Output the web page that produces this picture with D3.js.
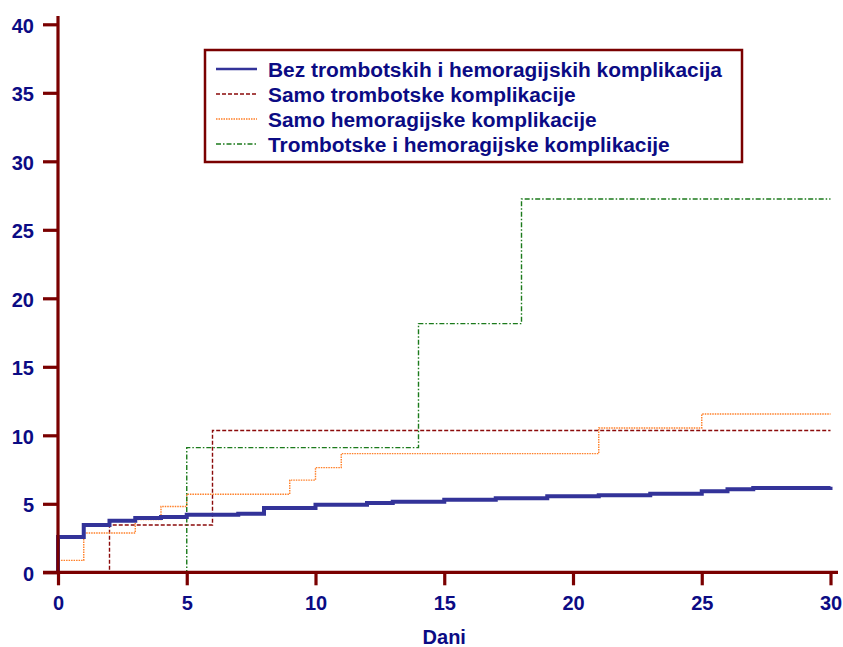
<!DOCTYPE html>
<html>
<head>
<meta charset="utf-8">
<script src="https://cdn.jsdelivr.net/npm/d3@7"></script>
<style>
  html, body { margin: 0; padding: 0; background: #fff; }
  svg { display: block; }
  text { font-family: "Liberation Sans", Arial, sans-serif; font-weight: bold; fill: #0b0b84; }
</style>
</head>
<body>
<svg id="chart" width="843" height="647"></svg>
<script>
// ---- Data ----
const xTicks = [0, 5, 10, 15, 20, 25, 30];
const yTicks = [0, 5, 10, 15, 20, 25, 30, 35, 40];
const xLabel = "Dani";

const seriesNames = [
  "Bez trombotskih i hemoragijskih komplikacija",
  "Samo trombotske komplikacije",
  "Samo hemoragijske komplikacije",
  "Trombotske i hemoragijske komplikacije"
];

// step curves: day of event, cumulative % after the event
const blueDays = [0, 1, 2, 3, 4, 5, 7, 8, 10, 12, 13, 15, 17, 19, 21, 23, 25, 26, 27, 30];
const blueVals = [2.58, 3.45, 3.77, 3.96, 4.04, 4.2, 4.27, 4.7, 4.93, 5.05, 5.15, 5.3, 5.4, 5.56, 5.63, 5.73, 5.91, 6.07, 6.15, 6.25];

const redDays = [0, 2, 6, 30];
const redVals = [0, 3.45, 10.35, 10.35];

const orangeDays = [0, 1, 3, 4, 5, 9, 10, 11, 21, 25, 30];
const orangeVals = [0.87, 2.87, 3.85, 4.8, 5.7, 6.73, 7.64, 8.66, 10.53, 11.55, 11.55];

const greenDays = [0, 5, 14, 18, 30];
const greenVals = [0, 9.1, 18.15, 27.25, 27.25];

// ---- Layout ----
const svg = d3.select("#chart");
const x = d3.scaleLinear().domain([0, 30]).range([58, 830.5]);
const y = d3.scaleLinear().domain([0, 40]).range([572.3, 24.3]);
const axisColor = "#7a0000";

const styles = [
  { color: "#333399", width: 4, dash: null },
  { color: "#8b0a0a", width: 1.4, dash: "4,2" },
  { color: "#ff7f27", width: 1.4, dash: "1.5,1" },
  { color: "#1b7a1b", width: 1.4, dash: "5,2,1.5,2" }
];

const series = [
  { days: blueDays, vals: blueVals },
  { days: redDays, vals: redVals },
  { days: orangeDays, vals: orangeVals },
  { days: greenDays, vals: greenVals }
];

const line = d3.line()
  .x(d => x(d[0]))
  .y(d => y(d[1]))
  .curve(d3.curveStepAfter);

// draw curves (start each at 0 at day 0)
const drawOrder = [1, 2, 3, 0];
drawOrder.forEach(i => {
  const s = series[i];
  const pts = [[0, 0]].concat(s.days.map((d, k) => [d, s.vals[k]]));
  svg.append("path")
    .datum(pts)
    .attr("d", line)
    .attr("fill", "none")
    .attr("stroke", styles[i].color)
    .attr("stroke-width", styles[i].width)
    .attr("stroke-dasharray", styles[i].dash)
    .attr("stroke-linejoin", "miter");
});

// ---- Axes ----
const yAxis = d3.axisLeft(y).tickValues(yTicks).tickSize(15).tickPadding(9).tickFormat(d3.format("d"));
const gy = svg.append("g").attr("transform", `translate(${x(0)},0)`).call(yAxis);
gy.select(".domain").remove();
gy.append("line").attr("x1", 0).attr("x2", 0).attr("y1", 16).attr("y2", y(0))
  .attr("stroke", axisColor).attr("stroke-width", 3.2);
gy.selectAll(".tick line").attr("stroke", axisColor).attr("stroke-width", 3.2);
gy.selectAll(".tick text").attr("fill", "#0b0b84").attr("font-size", 20)
  .attr("font-family", "Liberation Sans, Arial, sans-serif").attr("font-weight", "bold").attr("dy", "0.4em");

const xAxis = d3.axisBottom(x).tickValues(xTicks).tickSize(13).tickPadding(10).tickFormat(d3.format("d"));
const gx = svg.append("g").attr("transform", `translate(0,${y(0)})`).call(xAxis);
gx.select(".domain").remove();
gx.append("line").attr("x1", 43).attr("x2", 838).attr("y1", 0).attr("y2", 0)
  .attr("stroke", axisColor).attr("stroke-width", 3.2);
gx.selectAll(".tick line").attr("stroke", axisColor).attr("stroke-width", 3.2);
gx.selectAll(".tick text").attr("fill", "#0b0b84").attr("font-size", 20)
  .attr("font-family", "Liberation Sans, Arial, sans-serif").attr("font-weight", "bold").attr("dy", "0.75em");

svg.append("text")
  .attr("x", (x(0) + x(30)) / 2)
  .attr("y", 644)
  .attr("text-anchor", "middle")
  .attr("font-size", 20)
  .text(xLabel);

// ---- Legend ----
const lg = svg.append("g");
lg.append("rect")
  .attr("x", 205).attr("y", 50).attr("width", 537).attr("height", 112)
  .attr("fill", "#fff").attr("stroke", axisColor).attr("stroke-width", 2.5);
seriesNames.forEach((name, i) => {
  const cy = 69 + i * 25;
  lg.append("line")
    .attr("x1", 216).attr("x2", 257).attr("y1", cy).attr("y2", cy)
    .attr("stroke", styles[i].color)
    .attr("stroke-width", i === 0 ? 2.5 : 1.4)
    .attr("stroke-dasharray", styles[i].dash);
  lg.append("text")
    .attr("x", 268).attr("y", cy).attr("dy", "0.36em")
    .attr("font-size", 20.9)
    .text(name);
});
</script>
</body>
</html>
